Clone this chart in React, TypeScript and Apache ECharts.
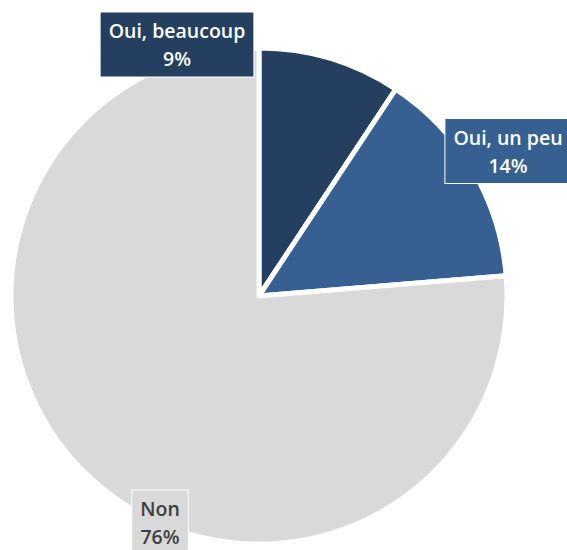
import React, { useEffect, useRef } from "react";
import * as echarts from "echarts";

const categories = ["Oui, beaucoup", "Oui, un peu", "Non"];
const values = [9.3, 14.4, 76.3];
const colors = ["#243F60", "#366092", "#D9D9D9"];
const labelColors = ["#FFFFFF", "#FFFFFF", "#404040"];

// label box centres (layout)
const labelPos = [
  [177, 44.5],
  [508, 151],
  [160, 522.5],
];

export default function App() {
  const ref = useRef<HTMLDivElement>(null);
  useEffect(() => {
    document.body.style.margin = "0";
    const chart = echarts.init(ref.current!, null, { renderer: "svg" });
    chart.setOption({
      animation: false,
      backgroundColor: "#FFFFFF",
      series: [
        {
          type: "pie",
          center: [259, 296],
          radius: 248,
          startAngle: 90,
          clockwise: true,
          avoidLabelOverlap: false,
          selectedMode: false,
          silent: true,
          itemStyle: { borderColor: "#FFFFFF", borderWidth: 5 },
          labelLine: { show: false },
          label: {
            show: true,
            position: "outside",
            fontFamily: "Open Sans",
            fontWeight: 600,
            fontSize: 19.5,
            lineHeight: 28,
            align: "center",
            borderColor: "#FFFFFF",
            borderWidth: 1,
            padding: [4, 8],
            formatter: (p: any) => `${p.name}\n${Math.round(p.value)}%`,
          },
          labelLayout: (p: any) => ({
            x: labelPos[p.dataIndex][0],
            y: labelPos[p.dataIndex][1],
            align: "center",
            verticalAlign: "middle",
          }),
          data: categories.map((name, i) => ({
            name,
            value: values[i],
            itemStyle: { color: colors[i] },
            label: { color: labelColors[i], backgroundColor: colors[i] },
          })),
        },
      ],
    });
    return () => chart.dispose();
  }, []);
  return (
    <div
      ref={ref}
      style={{ position: "fixed", left: 0, top: 0, width: 567, height: 550 }}
    />
  );
}
